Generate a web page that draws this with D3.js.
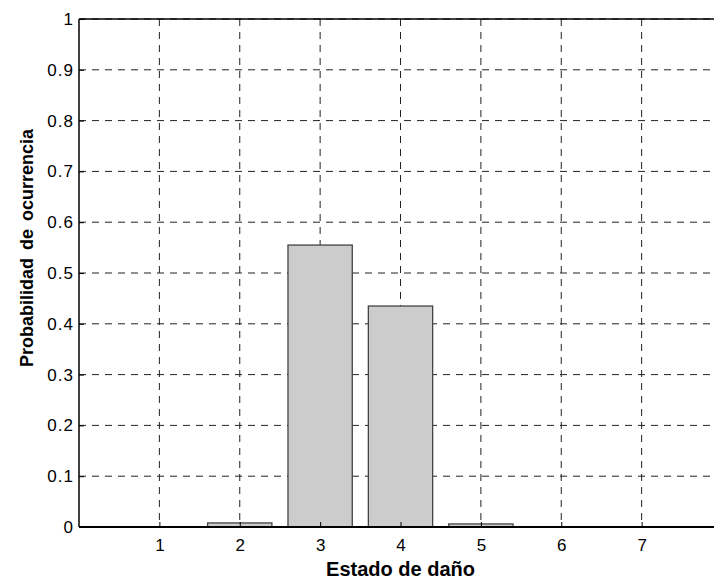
<!DOCTYPE html>
<html>
<head>
<meta charset="utf-8">
<script src="https://cdn.jsdelivr.net/npm/d3@7"></script>
<style>
  body { margin: 0; background: #fff; }
  svg { font-family: "Liberation Sans", Arial, sans-serif; }
</style>
</head>
<body>
<div id="chart"></div>
<script>
// damage states and their probability
var estados = [1, 2, 3, 4, 5, 6, 7];
var probabilidad = [0, 0.008, 0.555, 0.435, 0.006, 0, 0];
var yTicks = [0, 0.1, 0.2, 0.3, 0.4, 0.5, 0.6, 0.7, 0.8, 0.9, 1];

(function() {
  var width = 714,
      height = 579;

  var svg = d3.select("#chart")
    .append("svg")
    .attr("width", width)
    .attr("height", height);

  // axes box (right side falls off the picture, like the original)
  var left = 79, right = 722, top = 19, bottom = 527;

  var x = d3.scaleLinear().domain([0, 8]).range([left, right]);
  var y = d3.scaleLinear().domain([0, 1]).range([bottom, top]);

  var data = estados.map(function(e, i) { return { estado: e, p: probabilidad[i] }; });

  // grid lines
  svg.append("g")
    .selectAll("line")
    .data(estados)
    .enter().append("line")
    .attr("x1", function(d) { return x(d); })
    .attr("x2", function(d) { return x(d); })
    .attr("y1", top)
    .attr("y2", bottom)
    .attr("stroke", "#222")
    .attr("stroke-width", 1)
    .attr("stroke-dasharray", "7,6");

  svg.append("g")
    .selectAll("line")
    .data(yTicks.slice(1))
    .enter().append("line")
    .attr("x1", left)
    .attr("x2", right)
    .attr("y1", function(d) { return y(d); })
    .attr("y2", function(d) { return y(d); })
    .attr("stroke", "#222")
    .attr("stroke-width", 1)
    .attr("stroke-dasharray", "7,6");

  // bars
  svg.append("g")
    .selectAll("rect")
    .data(data)
    .enter().append("rect")
    .attr("x", function(d) { return x(d.estado - 0.4); })
    .attr("width", x(0.8) - x(0))
    .attr("y", function(d) { return y(d.p); })
    .attr("height", function(d) { return y(0) - y(d.p); })
    .attr("fill", "#cccccc")
    .attr("stroke", "#444")
    .attr("stroke-width", 1.3);

  // box
  svg.append("line").attr("x1", left).attr("x2", right).attr("y1", top).attr("y2", top)
    .attr("stroke", "#000").attr("stroke-width", 1.5);
  svg.append("line").attr("x1", left).attr("x2", left).attr("y1", top).attr("y2", bottom)
    .attr("stroke", "#000").attr("stroke-width", 1.5);

  // axes
  var xAxis = d3.axisBottom(x).tickValues(estados).tickSize(-5).tickPadding(12);
  var gx = svg.append("g")
    .attr("transform", "translate(0," + bottom + ")")
    .call(xAxis);
  gx.select(".domain").attr("stroke-width", 2).attr("d", "M" + left + ",0H" + right);
  gx.selectAll("text").attr("font-size", 17).attr("fill", "#000")
    .attr("font-family", "Liberation Sans, Arial, sans-serif");

  var yAxis = d3.axisLeft(y).tickValues(yTicks).tickSize(-5).tickPadding(5)
    .tickFormat(function(d) { return d3.format("")(d); });
  var gy = svg.append("g")
    .attr("transform", "translate(" + left + ",0)")
    .call(yAxis);
  gy.select(".domain").remove();
  gy.selectAll("text").attr("font-size", 17).attr("fill", "#000")
    .attr("letter-spacing", 1)
    .attr("font-family", "Liberation Sans, Arial, sans-serif");

  // axis titles
  svg.append("text")
    .attr("x", (left + right) / 2)
    .attr("y", 576)
    .attr("text-anchor", "middle")
    .attr("font-size", 20)
    .attr("font-weight", "bold")
    .text("Estado de daño");

  svg.append("text")
    .attr("transform", "translate(33," + 248 + ") rotate(-90)")
    .attr("text-anchor", "middle")
    .attr("font-size", 18)
    .attr("font-weight", "bold")
    .attr("word-spacing", 3)
    .text("Probabilidad de ocurrencia");
})();
</script>
</body>
</html>
